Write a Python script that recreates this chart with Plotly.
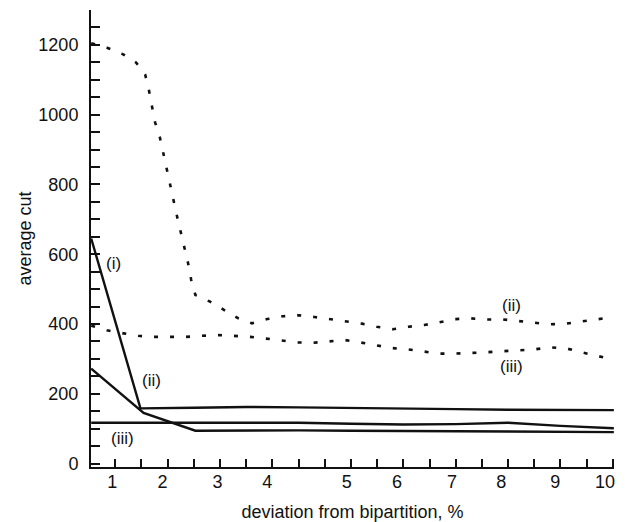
import plotly.graph_objects as go

# x in axis units (ticks every 0.5), y = average cut
x_label_pos = [0.94, 1.90, 2.95, 3.90, 5.42, 6.38, 7.43, 8.37, 9.40, 10.35]
x_label_text = ["1", "2", "3", "4", "5", "6", "7", "8", "9", "10"]
x_minor_ticks = [1 + 0.5 * k for k in range(20)]

sol_i_x = [0.54, 1.48, 2.5, 3.5, 4.5, 5.5, 6.5, 7.5, 8.5, 9.5, 10.52]
sol_i_y = [645, 158, 160, 162, 161, 160, 158, 156, 154, 153, 153]

sol_ii_x = [0.54, 1.54, 2.53, 3.5, 4.5, 5.5, 6.5, 7.5, 8.5, 9.5, 10.52]
sol_ii_y = [272, 145, 94, 95, 95, 94, 93, 93, 92, 91, 90]

sol_iii_x = [0.54, 1.5, 2.5, 3.5, 4.5, 5.5, 6.5, 7.5, 8.5, 9.5, 10.52]
sol_iii_y = [117, 117, 119, 119, 117, 114, 112, 113, 117, 108, 101]

dot_ii_x = [0.54, 0.84, 1.15, 1.40, 1.57, 1.64, 1.70, 1.76, 1.85, 1.92, 1.99, 2.05,
            2.11, 2.18, 2.25, 2.32, 2.39, 2.45, 2.53, 2.81, 3.07, 3.35, 3.61, 3.90,
            4.20, 4.51, 4.80, 5.10, 5.41, 5.71, 5.99, 6.30, 6.60, 6.90, 7.19, 7.49,
            7.79, 8.09, 8.40, 8.70, 9.00, 9.30, 9.61, 9.93, 10.24, 10.52]
dot_ii_y = [1205, 1192, 1173, 1149, 1115, 1072, 1024, 978, 936, 890, 842, 799,
            756, 708, 663, 617, 574, 526, 483, 464, 440, 416, 402, 414,
            422, 425, 420, 414, 408, 401, 392, 385, 392, 397, 405, 414,
            416, 413, 413, 408, 402, 399, 401, 408, 413, 420]

dot_iii_x = [0.54, 0.84, 1.16, 1.44, 1.73, 2.05, 2.34, 2.65, 2.97, 3.26, 3.58, 3.88,
             4.18, 4.48, 4.77, 5.08, 5.38, 5.68, 5.98, 6.28, 6.59, 6.88, 7.19, 7.49,
             7.79, 8.09, 8.40, 8.70, 9.00, 9.30, 9.61, 9.93, 10.24, 10.50]
dot_iii_y = [395, 382, 373, 366, 363, 363, 363, 366, 368, 366, 363, 358,
             353, 347, 346, 350, 354, 347, 339, 331, 327, 322, 315, 315,
             316, 319, 322, 325, 327, 333, 330, 318, 307, 298]

labels_text = ["(i)", "(ii)", "(iii)", "(ii)", "(iii)"]
labels_x = [0.97, 1.70, 1.14, 8.57, 8.57]
labels_y = [574, 238, 71, 454, 279]

FONT = "Liberation Sans, Arial, Helvetica, sans-serif"
INK = "#111111"

fig = go.Figure()
for xs, ys in [(sol_i_x, sol_i_y), (sol_ii_x, sol_ii_y), (sol_iii_x, sol_iii_y)]:
    fig.add_trace(go.Scatter(x=xs, y=ys, mode="lines",
                             line=dict(color=INK, width=2.4), showlegend=False,
                             hoverinfo="skip"))
for xs, ys in [(dot_ii_x, dot_ii_y), (dot_iii_x, dot_iii_y)]:
    fig.add_trace(go.Scatter(x=xs, y=ys, mode="lines",
                             line=dict(color=INK, width=2.6, dash="4px,12px"),
                             showlegend=False, hoverinfo="skip"))

for t, lx, ly in zip(labels_text, labels_x, labels_y):
    fig.add_annotation(x=lx, y=ly, text=t, showarrow=False,
                       font=dict(family=FONT, size=17, color=INK))

fig.update_layout(
    width=626, height=522,
    margin=dict(l=91, r=12, t=10, b=55),
    paper_bgcolor="white", plot_bgcolor="white",
    font=dict(family=FONT, size=18, color=INK),
    xaxis=dict(
        range=[0.536, 10.523], showgrid=False, zeroline=False, automargin=False,
        showline=True, linecolor=INK, linewidth=2,
        tickmode="array", tickvals=x_label_pos, ticktext=x_label_text,
        ticks="", ticklabelstandoff=-3,
        minor=dict(tickmode="array", tickvals=x_minor_ticks, ticks="inside",
                   ticklen=8, tickwidth=1.5, tickcolor=INK, showgrid=False),
        title=dict(text="deviation from bipartition, %", standoff=16,
                   font=dict(size=18)),
    ),
    yaxis=dict(
        range=[-10, 1300], showgrid=False, zeroline=False, automargin=False,
        showline=True, linecolor=INK, linewidth=2,
        tickmode="array", tickvals=[0, 200, 400, 600, 800, 1000, 1200],
        ticks="inside", ticklen=9, tickwidth=1.5, tickcolor=INK,
        ticklabelstandoff=7,
        minor=dict(tick0=0, dtick=50, ticks="inside", ticklen=9,
                   tickwidth=1.5, tickcolor=INK, showgrid=False),
        title=dict(text="average cut", standoff=2, font=dict(size=18)),
    ),
)

fig.write_html(
    "out.html",
    config={"displayModeBar": False},
    post_script="document.body.style.margin='0';document.body.style.overflow='hidden';",
)
